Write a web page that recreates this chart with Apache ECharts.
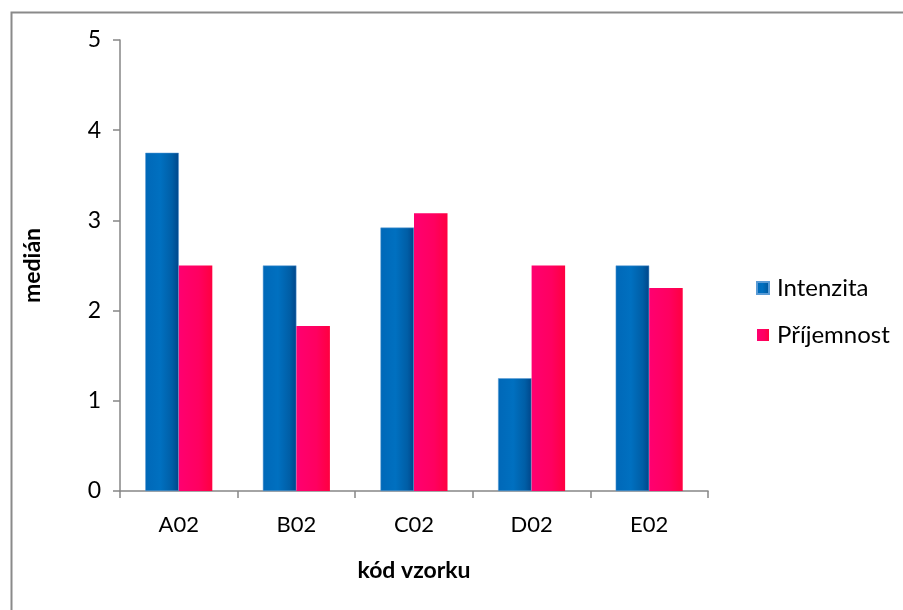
<!DOCTYPE html>
<html>
<head>
<meta charset="utf-8">
<script src="https://cdn.jsdelivr.net/npm/echarts@6/dist/echarts.min.js"></script>
<style>
  html, body { margin: 0; padding: 0; background: #fff; }
  #chart { width: 903px; height: 610px; }
</style>
</head>
<body>
<div id="chart"></div>
<script>
// Sample codes and medians per attribute
const categories = ['A02', 'B02', 'C02', 'D02', 'E02'];
const intenzita = [3.75, 2.5, 2.92, 1.25, 2.5];
const prijemnost = [2.5, 1.83, 3.08, 2.5, 2.25];
const yTicks = [0, 1, 2, 3, 4, 5];

const FONT = 'Lato, "Open Sans", sans-serif';
const AXIS_GRAY = '#868686';

const blueFill = new echarts.graphic.LinearGradient(0, 0, 1, 0, [
  { offset: 0, color: '#0068B8' },
  { offset: 0.45, color: '#0070C0' },
  { offset: 0.8, color: '#005EA6' },
  { offset: 1, color: '#00468A' }
]);
const pinkFill = new echarts.graphic.LinearGradient(0, 0, 1, 0, [
  { offset: 0, color: '#FF0070' },
  { offset: 0.6, color: '#FF0060' },
  { offset: 1, color: '#FF0040' }
]);

const chart = echarts.init(document.getElementById('chart'), null, { renderer: 'canvas' });
chart.setOption({
  animation: false,
  backgroundColor: '#fff',
  graphic: [{
    type: 'rect',
    left: 9, top: 10,
    shape: { width: 1000, height: 1000 },
    style: { fill: 'none', stroke: '#8A8A8A', lineWidth: 2 },
    silent: true
  }],
  grid: { left: 120, right: 195, top: 40, bottom: 119, containLabel: false },
  legend: {
    orient: 'vertical',
    left: 751,
    top: 271,
    itemWidth: 12,
    itemHeight: 12,
    itemGap: 23,
    icon: 'rect',
    textStyle: { fontFamily: FONT, fontSize: 24, color: '#000', padding: [0, 0, 0, 3] },
    data: ['Intenzita', 'Příjemnost']
  },
  xAxis: {
    type: 'category',
    data: categories,
    name: 'kód vzorku',
    nameLocation: 'middle',
    nameGap: 68,
    nameTextStyle: { fontFamily: FONT, fontSize: 23, fontWeight: 'bold', color: '#000' },
    axisLine: { lineStyle: { color: AXIS_GRAY, width: 1.5 } },
    axisTick: { show: true, alignWithLabel: false, length: 7, lineStyle: { color: AXIS_GRAY, width: 1.5 } },
    axisLabel: { fontFamily: FONT, fontSize: 22, color: '#000', margin: 23 },
    splitLine: { show: false }
  },
  yAxis: {
    type: 'value',
    min: yTicks[0],
    max: yTicks[yTicks.length - 1],
    interval: 1,
    name: 'medián',
    nameLocation: 'middle',
    nameGap: 76,
    nameRotate: 90,
    nameTextStyle: { fontFamily: FONT, fontSize: 23, fontWeight: 'bold', color: '#000' },
    axisLine: { show: true, lineStyle: { color: AXIS_GRAY, width: 1.5 } },
    axisTick: { show: true, inside: false, length: 7, lineStyle: { color: AXIS_GRAY, width: 1.5 } },
    axisLabel: { fontFamily: FONT, fontSize: 23, color: '#000', margin: 19 },
    splitLine: { show: false }
  },
  series: [
    {
      name: 'Intenzita',
      type: 'bar',
      data: intenzita,
      barGap: '0%',
      barCategoryGap: '43%',
      itemStyle: { color: blueFill, borderColor: '#5A9BD5', borderWidth: 0.5 }
    },
    {
      name: 'Příjemnost',
      type: 'bar',
      data: prijemnost,
      barGap: '0%',
      barCategoryGap: '43%',
      itemStyle: { color: pinkFill }
    }
  ]
});
</script>
</body>
</html>
